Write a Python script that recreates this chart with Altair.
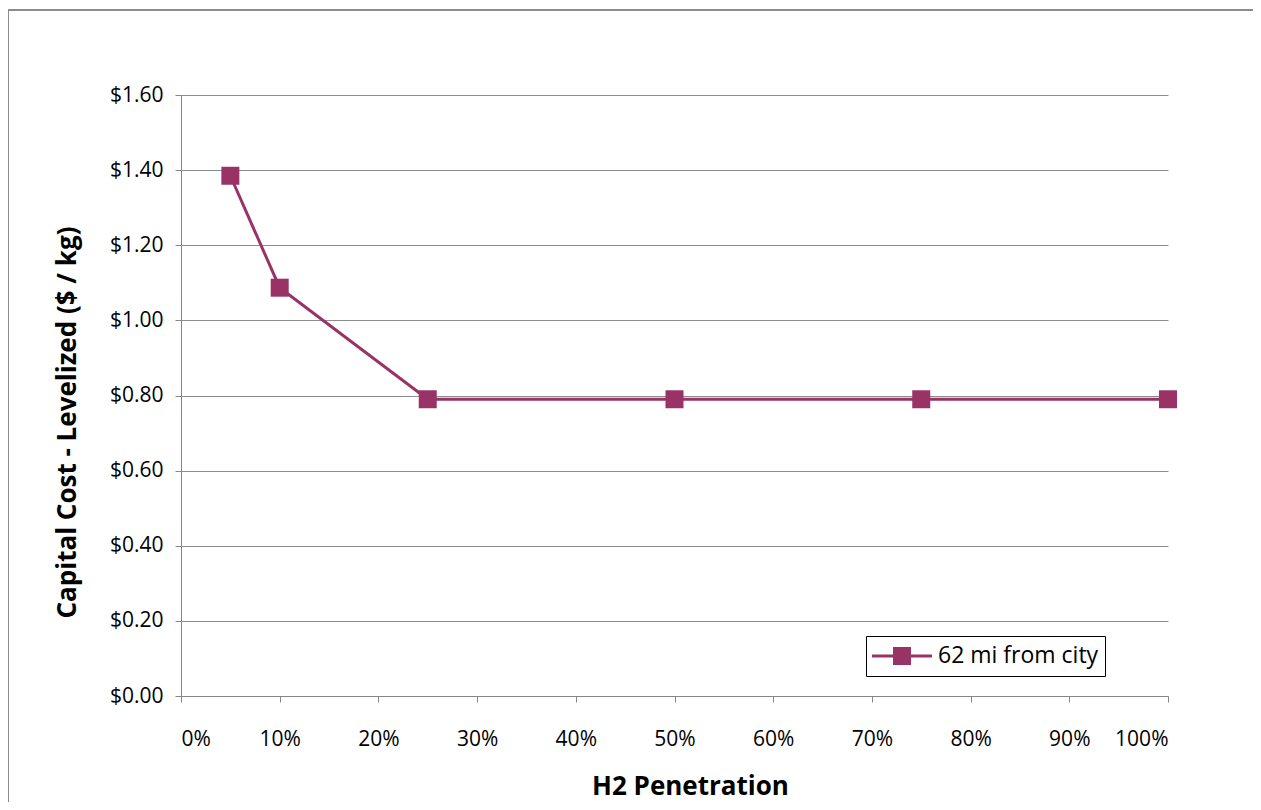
import altair as alt
import pandas as pd

penetration = [0.05, 0.10, 0.25, 0.50, 0.75, 1.00]
cost = [1.385, 1.087, 0.790, 0.790, 0.790, 0.790]
series = ["62 mi from city"] * 6
y_ticks = [0, 0.2, 0.4, 0.6, 0.8, 1.0, 1.2, 1.4, 1.6]
x_ticks = [0, 0.1, 0.2, 0.3, 0.4, 0.5, 0.6, 0.7, 0.8, 0.9, 1.0]

df = pd.DataFrame({"x": penetration, "y": cost, "s": series})

FONT = "Open Sans"
COLOR = "#993366"

W, H = 987, 601

xenc = alt.X("x:Q", scale=alt.Scale(domain=[0, 1], nice=False),
             axis=alt.Axis(values=x_ticks, format=".0%", title="H2 Penetration",
                           grid=False, tickSize=6, labelPadding=26,
                           titleX=509, titleY=90, titleBaseline="middle",
                           titleAlign="center"))
yenc = alt.Y("y:Q", scale=alt.Scale(domain=[0, 1.6], nice=False),
             axis=alt.Axis(values=y_ticks, format="$.2f",
                           title="Capital Cost - Levelized ($ / kg)",
                           grid=True, tickSize=6, labelPadding=12,
                           titleX=-114, titleY=327, titleAngle=-90,
                           titleBaseline="middle", titleAlign="center"))

frame = alt.Chart(df).mark_rect(fill=None, fillOpacity=0, stroke="#8c8c8c", strokeWidth=2).encode(
    x=alt.value(-173), x2=alt.value(W + 300), y=alt.value(-85), y2=alt.value(H + 300)
)

line = alt.Chart(df).mark_line(color=COLOR, strokeWidth=3).encode(x=xenc, y=yenc)

symbol_path = "M-1,-0.05H1V0.05H-1Z M-0.3,-0.3H0.3V0.3H-0.3Z"
points = alt.Chart(df).mark_point(shape="square", filled=True, size=324, opacity=1).encode(
    x=xenc, y=yenc,
    color=alt.Color("s:N", scale=alt.Scale(range=[COLOR]),
                    legend=alt.Legend(title=None, orient="none", legendX=685, legendY=541,
                                      symbolType=symbol_path, symbolSize=3600,
                                      symbolOpacity=1, symbolStrokeWidth=0,
                                      labelFontSize=23, labelFont=FONT, labelColor="black",
                                      labelLimit=400,
                                      strokeColor="black", fillColor="white",
                                      padding=6, clipHeight=28, labelOffset=6))
)

chart = alt.layer(frame, line, points).properties(
    width=W, height=H,
    autosize=alt.AutoSizeParams(type="none"),
    padding={"left": 173, "top": 87, "right": 85, "bottom": 106},
).configure_view(stroke=None).configure_axis(
    labelFont=FONT, labelFontSize=21, labelColor="black",
    titleFont=FONT, titleFontSize=26, titleFontWeight="bold", titleColor="black",
    domainColor="#868686", tickColor="#868686", gridColor="#8c8c8c",
    domainWidth=1, tickWidth=1, gridWidth=1,
)

chart.save("out.html", embed_options={"renderer": "svg", "actions": False})
